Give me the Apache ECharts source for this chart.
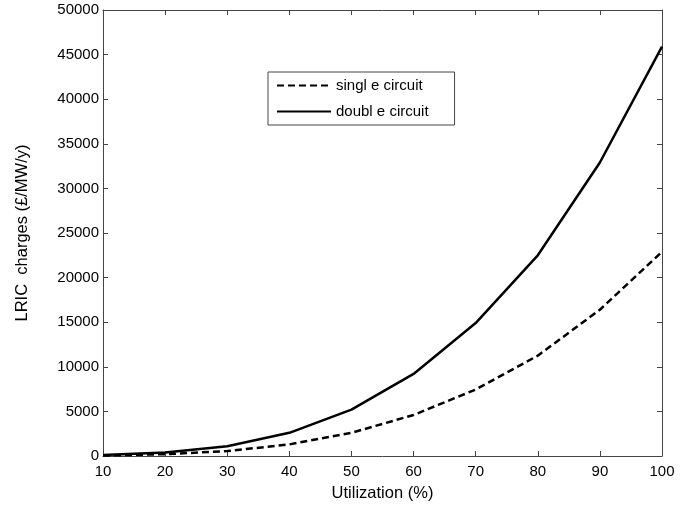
<!DOCTYPE html>
<html><head><meta charset="utf-8">
<script src="https://cdn.jsdelivr.net/npm/echarts@6/dist/echarts.min.js"></script>
<style>html,body{margin:0;padding:0;background:#fff}#c{width:689px;height:507px}</style>
</head><body><div id="c"></div>
<script>
var utilization = [10, 20, 30, 40, 50, 60, 70, 80, 90, 100];
var singleCircuit = [50, 200, 550, 1300, 2600, 4600, 7450, 11250, 16400, 22900];
var doubleCircuit = [100, 400, 1100, 2600, 5200, 9200, 14900, 22500, 32900, 45900];
var seriesNames = ['singl e circuit', 'doubl e circuit'];

var chart = echarts.init(document.getElementById('c'));
var font = 'Liberation Sans, Arial, sans-serif';
var axisCommon = {
  axisLine: {show: true, onZero: false, lineStyle: {color: '#444', width: 1}},
  axisTick: {show: true, inside: true, length: 5, lineStyle: {color: '#444'}},
  splitLine: {show: false}
};
chart.setOption({
  animation: false,
  backgroundColor: '#fff',
  textStyle: {fontFamily: font},
  grid: {left: 103, right: 27, top: 10, bottom: 50},
  legend: {
    orient: 'vertical', left: 268, top: 72,
    padding: [6, 26, 6, 8],
    borderColor: '#444', borderWidth: 1,
    itemWidth: 54, itemHeight: 14, itemGap: 11,
    itemStyle: {opacity: 0},
    textStyle: {fontSize: 15, color: '#000', fontFamily: font},
    data: seriesNames
  },
  xAxis: [
    Object.assign({type: 'value', min: 10, max: 100, interval: 10, position: 'bottom',
      name: 'Utilization (%)', nameLocation: 'middle', nameGap: 29,
      nameTextStyle: {fontSize: 16.5, color: '#000'},
      axisLabel: {fontSize: 15, color: '#000', margin: 8}}, axisCommon),
    Object.assign({type: 'value', min: 10, max: 100, interval: 10, position: 'top',
      axisLabel: {show: false}}, axisCommon)
  ],
  yAxis: [
    Object.assign({type: 'value', min: 0, max: 50000, interval: 5000, position: 'left',
      name: 'LRIC  charges (£/MW/y)', nameLocation: 'middle', nameGap: 72,
      nameTextStyle: {fontSize: 16.5, color: '#000'},
      axisLabel: {fontSize: 15, color: '#000', margin: 4,
        formatter: function(v){return String(v);}}}, axisCommon),
    Object.assign({type: 'value', min: 0, max: 50000, interval: 5000, position: 'right',
      axisLabel: {show: false}}, axisCommon)
  ],
  series: [
    {name: seriesNames[0], type: 'line', symbol: 'none',
      data: utilization.map(function(x, i){return [x, singleCircuit[i]];}),
      lineStyle: {color: '#000', width: 2.5, type: [7, 4]}, itemStyle: {color: '#000'}},
    {name: seriesNames[1], type: 'line', symbol: 'none',
      data: utilization.map(function(x, i){return [x, doubleCircuit[i]];}),
      lineStyle: {color: '#000', width: 2.5, type: 'solid'}, itemStyle: {color: '#000'}}
  ]
});
</script></body></html>
